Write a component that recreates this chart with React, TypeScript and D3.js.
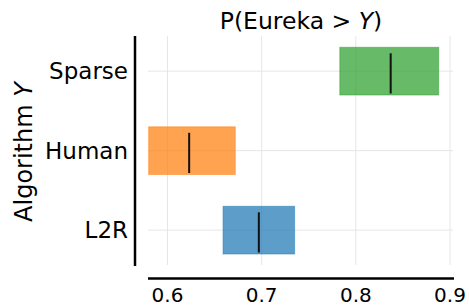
import React, { useEffect, useRef } from "react";
import * as d3 from "d3";

const algorithms = ["Sparse", "Human", "L2R"];
const lowValues = [0.783, 0.58, 0.659];
const highValues = [0.888, 0.672, 0.735];
const medianValues = [0.837, 0.623, 0.697];
const barColors = ["#2ca02c", "#ff7f0e", "#1f77b4"];
const xTicks = [0.6, 0.7, 0.8, 0.9];

const W = 469;
const H = 306;

export default function App() {
  const ref = useRef<SVGSVGElement>(null);

  useEffect(() => {
    const svg = d3.select(ref.current);
    svg.selectAll("*").remove();
    const font = "DejaVu Sans, sans-serif";

    const x = d3.scaleLinear().domain([0.6, 0.9]).range([167.5, 450]);
    const y = d3.scaleBand().domain(algorithms).range([15.5, 285.8]).padding(0.4);

    const g = svg.append("g");

    // grid
    g.selectAll("line.vgrid")
      .data(xTicks)
      .enter()
      .append("line")
      .attr("x1", d => x(d))
      .attr("x2", d => x(d))
      .attr("y1", 36)
      .attr("y2", 265)
      .attr("stroke", "#e6e6e6")
      .attr("stroke-width", 1);

    g.selectAll("line.hgrid")
      .data(algorithms)
      .enter()
      .append("line")
      .attr("x1", 148)
      .attr("x2", 453)
      .attr("y1", d => y(d)! + y.bandwidth() / 2)
      .attr("y2", d => y(d)! + y.bandwidth() / 2)
      .attr("stroke", "#e6e6e6")
      .attr("stroke-width", 1);

    // bars
    g.selectAll("rect.bar")
      .data(algorithms)
      .enter()
      .append("rect")
      .attr("x", (d, i) => x(lowValues[i]))
      .attr("width", (d, i) => x(highValues[i]) - x(lowValues[i]))
      .attr("y", d => y(d)!)
      .attr("height", y.bandwidth())
      .attr("fill", (d, i) => barColors[i])
      .attr("fill-opacity", 0.72)
      .attr("stroke", (d, i) => barColors[i])
      .attr("stroke-opacity", 0.5)
      .attr("stroke-width", 1);

    // medians
    g.selectAll("line.median")
      .data(algorithms)
      .enter()
      .append("line")
      .attr("x1", (d, i) => x(medianValues[i]))
      .attr("x2", (d, i) => x(medianValues[i]))
      .attr("y1", d => y(d)! + 6)
      .attr("y2", d => y(d)! + y.bandwidth() - 1.5)
      .attr("stroke", "#111")
      .attr("stroke-width", 2);

    // y axis line
    g.append("line")
      .attr("x1", 135).attr("x2", 135)
      .attr("y1", 36).attr("y2", 266)
      .attr("stroke", "#000").attr("stroke-width", 2.5);

    // x axis line
    g.append("line")
      .attr("x1", 148).attr("x2", 454)
      .attr("y1", 278.5).attr("y2", 278.5)
      .attr("stroke", "#000").attr("stroke-width", 2.5);

    // x tick labels
    g.selectAll("text.xtick")
      .data(xTicks)
      .enter()
      .append("text")
      .attr("x", d => x(d))
      .attr("y", 301.5)
      .attr("text-anchor", "middle")
      .attr("font-family", font)
      .attr("font-size", 20)
      .attr("fill", "#000")
      .text(d => d3.format(".1f")(d));

    // y tick labels
    g.selectAll("text.ytick")
      .data(algorithms)
      .enter()
      .append("text")
      .attr("x", 128)
      .attr("y", d => y(d)! + y.bandwidth() / 2)
      .attr("dy", "0.36em")
      .attr("text-anchor", "end")
      .attr("font-family", font)
      .attr("font-size", 23)
      .attr("fill", "#000")
      .text(d => d);

    // title
    const title = g.append("text")
      .attr("x", 301)
      .attr("y", 29)
      .attr("text-anchor", "middle")
      .attr("font-family", font)
      .attr("font-size", 23.5)
      .attr("fill", "#000");
    title.append("tspan").text("P(Eureka > ");
    title.append("tspan").attr("font-style", "italic").text("Y");
    title.append("tspan").text(")");

    // y label
    const ylab = g.append("text")
      .attr("transform", "translate(32,152) rotate(-90)")
      .attr("text-anchor", "middle")
      .attr("font-family", font)
      .attr("font-size", 24)
      .attr("fill", "#000");
    ylab.append("tspan").text("Algorithm ");
    ylab.append("tspan").attr("font-style", "italic").text("Y");
  }, []);

  return (
    <svg
      ref={ref}
      width={W}
      height={H}
      style={{ position: "absolute", left: 0, top: 0, background: "#fff" }}
    />
  );
}
